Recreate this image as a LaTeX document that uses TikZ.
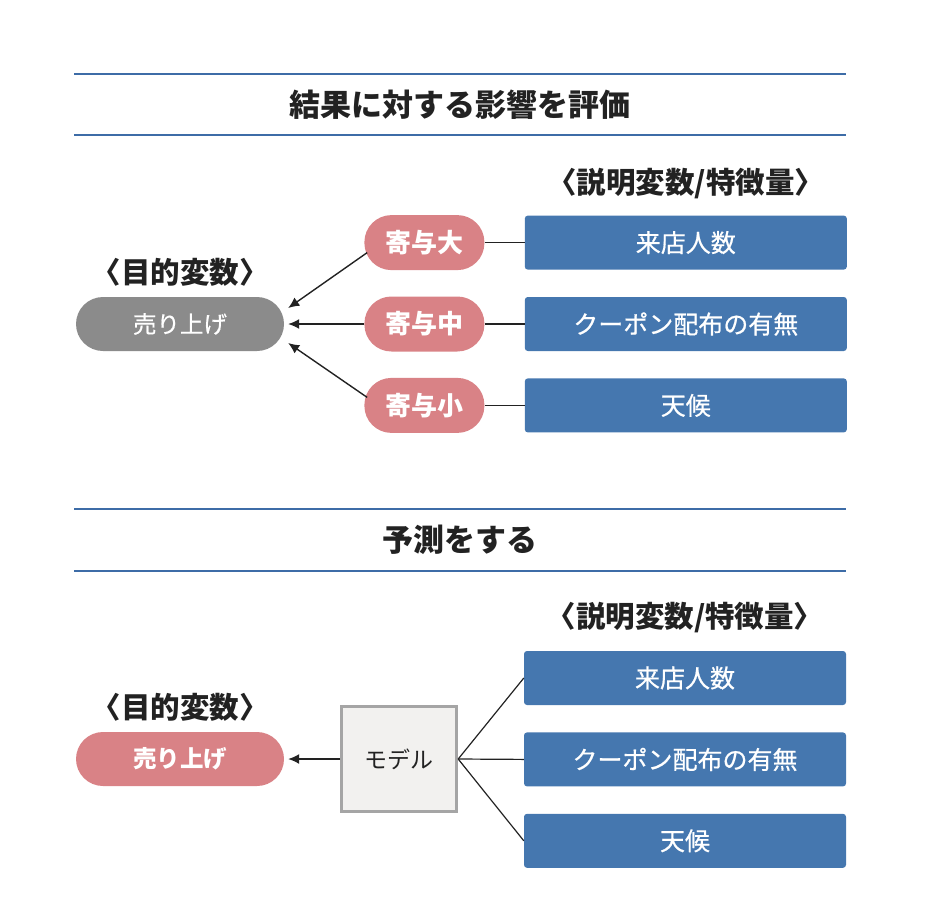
\documentclass[tikz,border=0pt]{standalone}
\usepackage{fontspec}
\setmainfont{Noto Sans CJK JP}
\newfontfamily\jpmid[FakeBold=0.6]{Noto Sans CJK JP}
\usetikzlibrary{arrows.meta,positioning}
\definecolor{RuleBlue}{HTML}{3D6CA7}
\definecolor{FeatBlue}{HTML}{4577AF}
\definecolor{ContribPink}{HTML}{D98286}
\definecolor{TargetGray}{HTML}{8B8B8B}
\definecolor{ModelFill}{HTML}{F2F1EF}
\definecolor{ModelEdge}{HTML}{A5A5A5}
\definecolor{InkBlack}{HTML}{222222}

\begin{document}
\begin{tikzpicture}[x=1pt,y=-1pt,
  node distance=26pt and 40pt,
  title/.style={font=\fontsize{31}{31}\selectfont\bfseries,text=InkBlack,inner sep=0pt},
  head/.style={font=\fontsize{29.5}{29.5}\selectfont\bfseries,text=InkBlack,inner sep=0pt},
  feat/.style={rectangle,rounded corners=3pt,fill=FeatBlue,text=white,minimum width=322pt,minimum height=54pt,font=\fontsize{25}{25}\jpmid},
  contrib/.style={rectangle,rounded corners=27pt,fill=ContribPink,text=white,minimum width=120pt,minimum height=55pt,inner sep=0pt,font=\fontsize{26}{26}\selectfont\bfseries},
  target/.style={rectangle,rounded corners=27pt,minimum width=208pt,minimum height=54pt,text=white,font=\fontsize{23.5}{23.5}\jpmid},
  model/.style={draw=ModelEdge,line width=3pt,fill=ModelFill,minimum width=115pt,minimum height=105pt,font=\fontsize{23}{23}\selectfont,text=InkBlack},
  rule/.style={draw=RuleBlue,line width=2.5pt},
  arrow/.style={-{Latex[length=11pt,width=10pt]},line width=1.4pt,color=InkBlack},
  link/.style={line width=1.2pt,color=InkBlack}
]
\useasboundingbox (0,0) rectangle (928,916);
% 結果に対する影響を評価
\draw[rule] (74,74) -- (846,74);
\node[title] (title1) at (460,105) {結果に対する影響を評価};
\draw[rule] (74,135) -- (846,135);
\node[target,fill=TargetGray] (sales) at (180,324) {売り上げ};
\node[contrib,right=80pt of sales] (mid) {寄与中};
\node[contrib,above=of mid] (big) {寄与大};
\node[contrib,below=of mid] (small) {寄与小};
\node[feat,right=of big] (visits) {来店人数};
\node[feat,right=of mid] (coupon) {クーポン配布の有無};
\node[feat,right=of small] (weather) {天候};
\node[head,above=16pt of visits] (xhead1) {〈説明変数/特徴量〉};
\node[head,above=10pt of sales] (yhead1) {〈目的変数〉};
\draw[link] (big) -- (visits);
\draw[link] (mid) -- (coupon);
\draw[link] (small) -- (weather);
\draw[arrow] ([xshift=3pt,yshift=-10pt]big.west) -- ([xshift=4pt,yshift=16pt]sales.east);
\draw[arrow] (mid) -- ([xshift=4pt]sales.east);
\draw[arrow] ([xshift=3pt,yshift=8pt]small.west) -- ([xshift=4pt,yshift=-19pt]sales.east);
% 予測をする
\draw[rule] (74,509) -- (846,509);
\node[title] (title2) at (460,540) {予測をする};
\draw[rule] (74,571) -- (846,571);
\node[target,fill=ContribPink,font=\fontsize{23.5}{23.5}\selectfont\bfseries] (sales2) at (180,759) {売り上げ};
\node[model,right=56pt of sales2] (model) {モデル};
\node[feat] (visits2) at (685,678) {来店人数};
\node[feat,below=27pt of visits2] (coupon2) {クーポン配布の有無};
\node[feat,below=27pt of coupon2] (weather2) {天候};
\node[head,above=18pt of visits2] (xhead2) {〈説明変数/特徴量〉};
\node[head,above=10pt of sales2] (yhead2) {〈目的変数〉};
\draw[arrow] (model) -- ([xshift=4pt]sales2.east);
\draw[link] (model.east) -- (visits2.west);
\draw[link] (model.east) -- (coupon2.west);
\draw[link] (model.east) -- (weather2.west);
\end{tikzpicture}
\end{document}
